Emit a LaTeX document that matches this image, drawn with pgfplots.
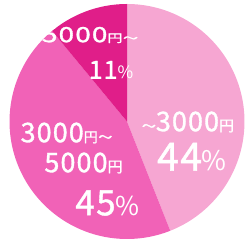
\documentclass[border=0pt]{standalone}
\usepackage{pgfplots}
\pgfplotsset{compat=1.18}
\usepackage{fontspec}
\newfontfamily\jp[LetterSpace=4, FakeBold=1.2]{Noto Sans CJK JP}
\newfontfamily\jpl[LetterSpace=2]{Noto Sans CJK JP}
\definecolor{cA}{RGB}{246,166,210}
\definecolor{cB}{RGB}{241,98,183}
\definecolor{cC}{RGB}{224,30,137}
\newcommand{\D}[2]{{\fontsize{#1}{#1}\selectfont #2}}
\begin{document}
\begin{tikzpicture}
\begin{axis}[hide axis, scale only axis, width=247pt, height=246pt,
  xmin=-127, xmax=120, ymin=-124.5, ymax=121.5, clip=false]
\path (rel axis cs:0,0) rectangle (rel axis cs:1,1);
% shares: 44 %, 45 %, 11 % -> 158.4, 162, 39.6 degrees, clockwise from the top
\addplot[fill=cA, draw=none, data cs=polar, domain=-68.4:90, samples=120] ({x},{117.5}) -- (axis cs:0,0) -- cycle;
\addplot[fill=cB, draw=none, data cs=polar, domain=-230.4:-68.4, samples=120] ({x},{117.5}) -- (axis cs:0,0) -- cycle;
\addplot[fill=cC, draw=none, data cs=polar, domain=-270:-230.4, samples=40] ({x},{117.5}) -- (axis cs:0,0) -- cycle;
\begin{scope}[every node/.style={text=white, inner sep=0pt, font=\jp}]
\node at (axis cs:-37,86.5) {\scalebox{1}[0.75]{\D{28}{5000}\D{15}{円～}}};
\node at (axis cs:-16,51.5) {\D{25}{11}\D{17}{\jpl\%}};
\node at (axis cs:61,-0.5) {\D{14}{～}\D{27}{3000}\D{15}{円}};
\node at (axis cs:65,-35.5) {\D{39}{44}\D{27}{\jpl\%}};
\node at (axis cs:-60.5,-11.5) {\D{27}{3000}\D{14}{円～}};
\node at (axis cs:-43.5,-41.5) {\D{27}{5000}\D{15}{円}};
\node at (axis cs:-19.5,-81.5) {\D{35}{45}\D{26}{\jpl\%}};
\end{scope}
\end{axis}
\end{tikzpicture}
\end{document}
